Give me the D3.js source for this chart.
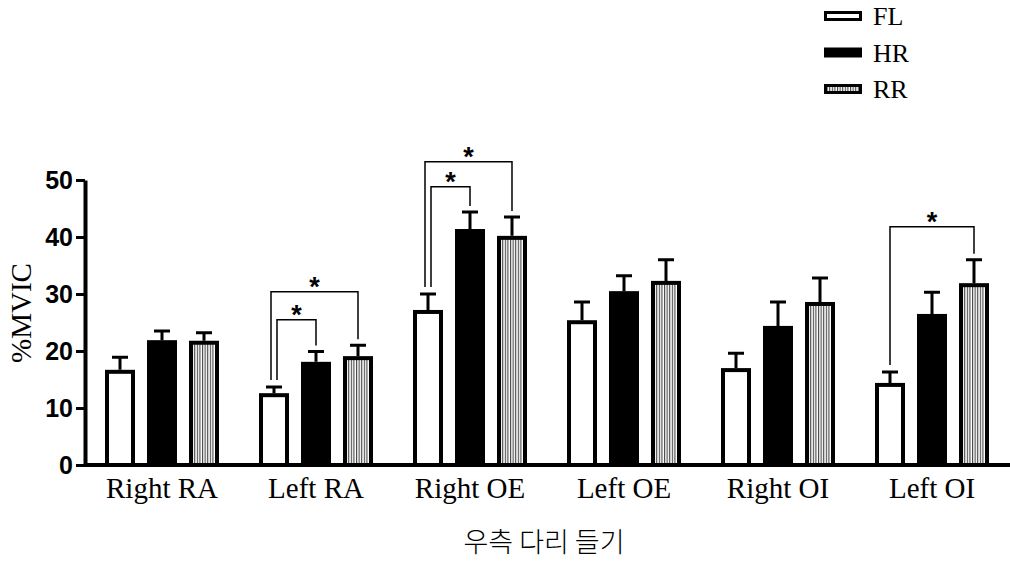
<html>
<head>
<meta charset="utf-8">
<script src="https://d3js.org/d3.v7.min.js"></script>
<style>
  body { margin: 0; background: #fff; }
</style>
</head>
<body>
<svg></svg>
<script>
// values (%MVIC, mean and upward SEM)
var groups = ["Right RA", "Left RA", "Right OE", "Left OE", "Right OI", "Left OI"];
var seriesNames = ["FL", "HR", "RR"];
var flMean = [16.7, 12.6, 27.2, 25.4, 17.0, 14.4];
var flErr  = [2.2, 1.1, 2.8, 3.2, 2.6, 1.9];
var hrMean = [21.9, 18.1, 41.4, 30.5, 24.4, 26.5];
var hrErr  = [1.6, 1.8, 3.0, 2.7, 4.2, 3.8];
var rrMean = [21.8, 19.1, 40.2, 32.3, 28.6, 31.9];
var rrErr  = [1.4, 1.9, 3.3, 3.7, 4.2, 4.1];
var yTicks = [0, 10, 20, 30, 40, 50];
// significance brackets: group, from series, to series, bracket height (data units)
var sig = [
  {group: "Left RA", from: "FL", to: "RR", level: 30.4, off: -3},
  {group: "Left RA", from: "FL", to: "HR", level: 25.5, off: 3},
  {group: "Right OE", from: "FL", to: "RR", level: 53.2, off: -3},
  {group: "Right OE", from: "FL", to: "HR", level: 48.8, off: 3},
  {group: "Left OI", from: "FL", to: "RR", level: 41.8, off: 0}
];

var width = 1010, height = 564;
var margin = {left: 85, right: 1, top: 180, bottom: 99};

var svg = d3.select("svg")
    .attr("width", width)
    .attr("height", height);

var data = groups.map(function(g, i) {
  return {
    group: g,
    values: [
      {key: "FL", mean: flMean[i], err: flErr[i]},
      {key: "HR", mean: hrMean[i], err: hrErr[i]},
      {key: "RR", mean: rrMean[i], err: rrErr[i]}
    ]
  };
});

var x = d3.scaleBand()
    .domain(groups)
    .range([margin.left, margin.left + 6 * 154]);
var xs = d3.scaleBand()
    .domain(seriesNames)
    .range([20, 134])
    .paddingInner(0.2857);
var y = d3.scaleLinear()
    .domain([0, 50])
    .range([465, 180]);

// stripe pattern for RR
var defs = svg.append("defs");
var pat = defs.append("pattern")
    .attr("id", "stripes")
    .attr("patternUnits", "userSpaceOnUse")
    .attr("width", 2.6).attr("height", 10);
pat.append("rect").attr("width", 2.6).attr("height", 10).attr("fill", "#fff");
pat.append("rect").attr("x", 0).attr("width", 1.1).attr("height", 10).attr("fill", "#444");

var fills = {FL: "#fff", HR: "#000", RR: "url(#stripes)"};
var sw = 4;

// bars
var g = svg.append("g").selectAll("g")
    .data(data)
    .enter().append("g")
    .attr("transform", function(d) { return "translate(" + x(d.group) + ",0)"; });

g.selectAll("rect")
    .data(function(d) { return d.values; })
    .enter().append("rect")
    .attr("x", function(d) { return xs(d.key) + sw / 2; })
    .attr("width", xs.bandwidth() - sw)
    .attr("y", function(d) { return y(d.mean) + sw / 2; })
    .attr("height", function(d) { return y(0) - y(d.mean) - sw / 2; })
    .attr("fill", function(d) { return fills[d.key]; })
    .attr("stroke", "#000")
    .attr("stroke-width", sw);

// error bars (upward only)
g.selectAll("path.err")
    .data(function(d) { return d.values; })
    .enter().append("path")
    .attr("class", "err")
    .attr("d", function(d) {
      var cx = xs(d.key) + xs.bandwidth() / 2;
      return "M" + cx + "," + y(d.mean) + "V" + y(d.mean + d.err) +
             "M" + (cx - 8) + "," + y(d.mean + d.err) + "H" + (cx + 8);
    })
    .attr("fill", "none")
    .attr("stroke", "#000")
    .attr("stroke-width", 3);

// axes
svg.append("line")
    .attr("x1", margin.left).attr("x2", width)
    .attr("y1", y(0)).attr("y2", y(0))
    .attr("stroke", "#000").attr("stroke-width", 4);

var yAxis = svg.append("g")
    .attr("transform", "translate(" + margin.left + ",0)")
    .call(d3.axisLeft(y).tickValues(yTicks).tickSize(9).tickSizeOuter(0).tickPadding(3));
yAxis.select(".domain").attr("stroke-width", 4);
yAxis.selectAll(".tick line").attr("stroke-width", 3);
yAxis.selectAll(".tick text")
    .attr("font-family", "Liberation Sans, Arial, sans-serif")
    .attr("font-weight", "bold")
    .attr("font-size", 25)
    .attr("fill", "#000");

svg.append("g").selectAll("text")
    .data(groups)
    .enter().append("text")
    .attr("x", function(d) { return x(d) + x.bandwidth() / 2; })
    .attr("y", 498)
    .attr("text-anchor", "middle")
    .attr("font-family", "Liberation Serif, serif")
    .attr("font-size", 29)
    .text(function(d) { return d; });

svg.append("text")
    .attr("transform", "translate(31,313) rotate(-90)")
    .attr("text-anchor", "middle")
    .attr("font-family", "Liberation Serif, serif")
    .attr("font-size", 29)
    .text("%MVIC");

svg.append("text")
    .attr("x", 544)
    .attr("y", 552)
    .attr("text-anchor", "middle")
    .attr("font-family", "Noto Sans CJK KR, sans-serif")
    .attr("font-weight", 300)
    .attr("font-size", 27)
    .text("우측 다리 들기");

// significance brackets
function seriesVal(grp, key) {
  var i = groups.indexOf(grp);
  var d = data[i].values[seriesNames.indexOf(key)];
  return d.mean + d.err;
}
function cxOf(grp, key) { return x(grp) + xs(key) + xs.bandwidth() / 2; }

var sg = svg.append("g");
sig.forEach(function(s) {
  var x1 = cxOf(s.group, s.from) + s.off;
  var x2 = cxOf(s.group, s.to);
  var yl = y(s.level);
  sg.append("path")
      .attr("d", "M" + x1 + "," + (y(seriesVal(s.group, s.from)) - 7) + "V" + yl +
                 "H" + x2 + "V" + (y(seriesVal(s.group, s.to)) - 6))
      .attr("fill", "none")
      .attr("stroke", "#000")
      .attr("stroke-width", 1.5);
  sg.append("text")
      .attr("x", (x1 + x2) / 2)
      .attr("y", yl + 4)
      .attr("text-anchor", "middle")
      .attr("font-family", "Liberation Sans, Arial, sans-serif")
      .attr("font-weight", "bold")
      .attr("font-size", 27)
      .text("*");
});

// legend
var leg = svg.append("g").selectAll("g")
    .data(seriesNames)
    .enter().append("g")
    .attr("transform", function(d, i) { return "translate(824," + (16 + i * 36.5) + ")"; });
leg.append("rect")
    .attr("x", 1.5).attr("y", -3.5)
    .attr("width", 35).attr("height", 7)
    .attr("fill", function(d) { return fills[d]; })
    .attr("stroke", "#000")
    .attr("stroke-width", 3);
leg.append("text")
    .attr("x", 49)
    .attr("y", 9)
    .attr("font-family", "Liberation Serif, serif")
    .attr("font-size", 26)
    .text(function(d) { return d; });
</script>
</body>
</html>
